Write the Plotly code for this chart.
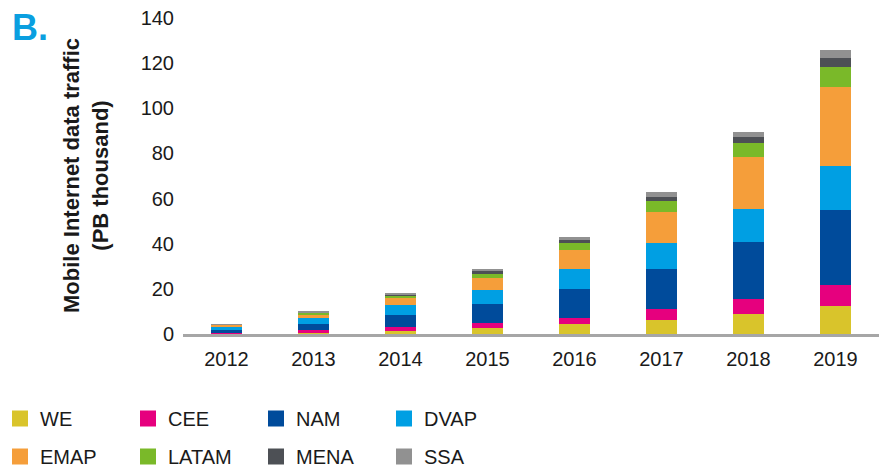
import plotly.graph_objects as go

years = ["2012", "2013", "2014", "2015", "2016", "2017", "2018", "2019"]
regions = ["WE", "CEE", "NAM", "DVAP", "EMAP", "LATAM", "MENA", "SSA"]

we = [0.4, 0.6, 1.2, 2.5, 4.3, 6.0, 8.7, 12.2]
cee = [0.2, 1.0, 1.8, 2.2, 2.7, 5.0, 6.8, 9.7]
nam = [1.2, 2.7, 5.3, 8.4, 12.8, 17.6, 25.1, 33.2]
dvap = [1.3, 2.7, 4.4, 6.6, 8.8, 11.9, 15.0, 19.5]
emap = [0.9, 1.8, 3.1, 5.3, 8.8, 13.7, 22.6, 35.0]
latam = [0.2, 0.7, 0.9, 1.8, 3.1, 4.9, 6.6, 8.8]
mena = [0.1, 0.2, 1.0, 1.3, 1.3, 1.8, 2.7, 4.0]
ssa = [0.1, 0.1, 0.3, 0.7, 1.3, 1.8, 2.2, 3.5]

y_ticks = [0, 20, 40, 60, 80, 100, 120, 140]

series = [we, cee, nam, dvap, emap, latam, mena, ssa]
colors = ["#D9C42B", "#E6007E", "#004B9B", "#009FE3",
          "#F59E3A", "#7AB929", "#4D5055", "#919191"]

FONT = "Liberation Sans, Arial, sans-serif"

fig = go.Figure()
for name, vals, col in zip(regions, series, colors):
    fig.add_trace(go.Bar(x=years, y=vals, name=name, marker_color=col,
                         marker_line_width=0, showlegend=False))

# legend entries (two rows)
for i, (name, col) in enumerate(zip(regions, colors)):
    fig.add_trace(go.Scatter(x=[None], y=[None], mode="markers", name=name,
                             marker=dict(symbol="square", size=16, color=col),
                             legend="legend" if i < 4 else "legend2"))

leg_common = dict(orientation="h", xref="container", yref="container",
                  xanchor="left", yanchor="middle", traceorder="normal",
                  font=dict(family=FONT, size=20, color="#1a1a1a"),
                  entrywidth=83, bgcolor="rgba(0,0,0,0)",
                  itemsizing="trace")

fig.update_layout(
    width=885, height=469,
    margin=dict(l=183, r=6, t=18, b=135, autoexpand=False),
    paper_bgcolor="white", plot_bgcolor="white",
    barmode="stack", bargap=0.655,
    font=dict(family=FONT, size=20, color="#1a1a1a"),
    legend=dict(x=0, y=1 - 418.5 / 469, **leg_common),
    legend2=dict(x=0, y=1 - 456.5 / 469, **leg_common),
    xaxis=dict(showgrid=False, showline=True, linecolor="#A6A6A6",
               linewidth=3, ticks="", ticklabelstandoff=5,
               tickfont=dict(family=FONT, size=20, color="#1a1a1a")),
    yaxis=dict(range=[0, 140], tickvals=y_ticks, showgrid=False,
               zeroline=False, showline=False, ticks="",
               ticklabelstandoff=8,
               tickfont=dict(family=FONT, size=20, color="#1a1a1a")),
    annotations=[
        dict(text="<b>Mobile Internet data traffic<br>(PB thousand)</b>",
             xref="paper", yref="paper", x=(86 - 183) / 696, y=0.5,
             xanchor="center", yanchor="middle", textangle=-90,
             showarrow=False,
             font=dict(family=FONT, size=22, color="#1a1a1a")),
        dict(text="<b>B.</b>", xref="paper", yref="paper",
             x=(10 - 183) / 696, y=1 - (28 - 18) / 316,
             xanchor="left", yanchor="middle", showarrow=False,
             font=dict(family=FONT, size=36, color="#0A9FE0")),
    ],
)

fig.write_html("out.html",
               config={"displayModeBar": False},
               post_script="document.body.style.margin='0';"
                           "document.body.style.overflow='hidden';")
